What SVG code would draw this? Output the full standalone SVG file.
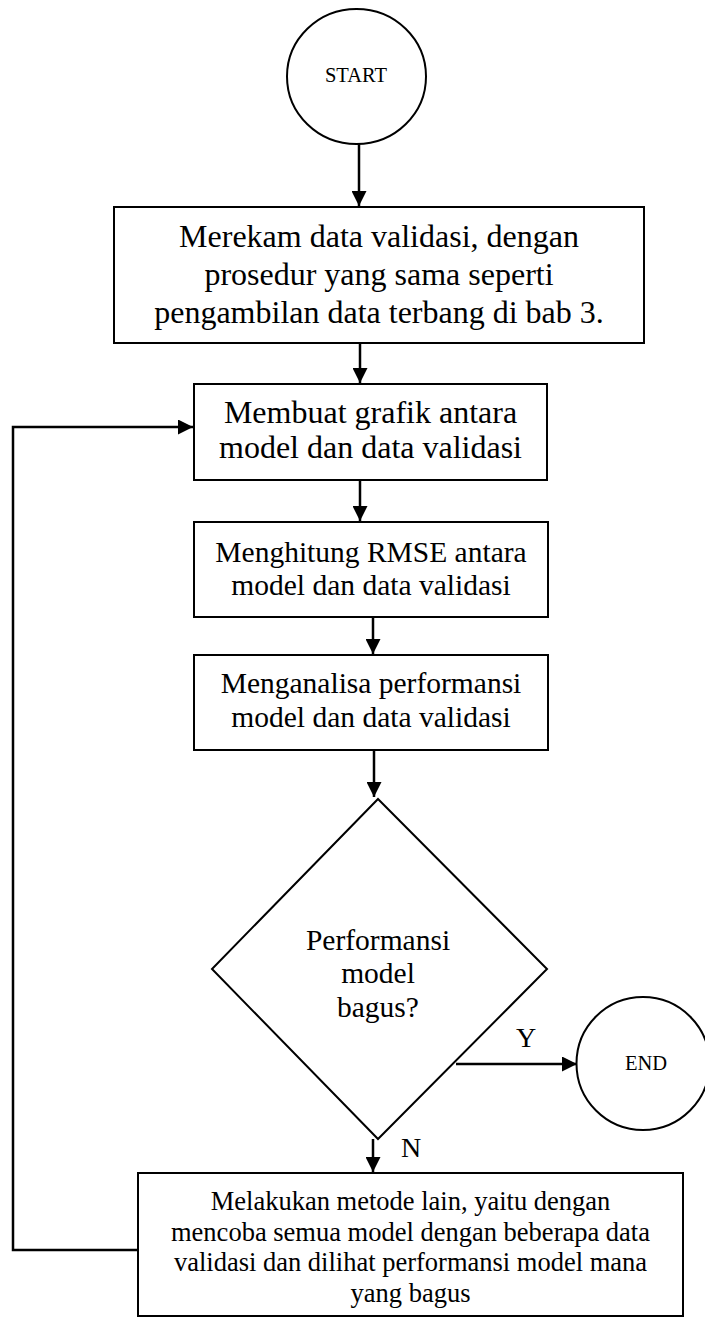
<svg xmlns="http://www.w3.org/2000/svg" width="705" height="1320" viewBox="0 0 705 1320">
<style>
.shape{fill:#fff;stroke:#000;stroke-width:2}
.conn{fill:none;stroke:#000;stroke-width:2.5}
text{font-family:"Liberation Serif","Times New Roman",serif;fill:#000;text-anchor:middle}
.t32{font-size:32px}
.t30{font-size:29.5px}
.t26{font-size:26.5px}
.t20{font-size:20.5px}
.lab{font-size:28px}
</style>
<defs>
<marker id="arrow" markerUnits="userSpaceOnUse" markerWidth="15" markerHeight="15" refX="15" refY="7.5" orient="auto">
<path d="M0,0 L15,7.5 L0,15 z" fill="#000"/>
</marker>
</defs>
<rect width="705" height="1320" fill="#fff"/>
<g id="connectors">
<line class="conn" x1="359" y1="144" x2="359" y2="206" marker-end="url(#arrow)"/>
<line class="conn" x1="360" y1="343" x2="360" y2="383" marker-end="url(#arrow)"/>
<line class="conn" x1="360" y1="480" x2="360" y2="521" marker-end="url(#arrow)"/>
<line class="conn" x1="373" y1="617" x2="373" y2="654" marker-end="url(#arrow)"/>
<line class="conn" x1="374" y1="750" x2="374" y2="797" marker-end="url(#arrow)"/>
<line class="conn" x1="456" y1="1064" x2="577" y2="1064" marker-end="url(#arrow)"/>
<line class="conn" x1="373" y1="1139" x2="373" y2="1172" marker-end="url(#arrow)"/>
<polyline class="conn" points="138,1250 13,1250 13,427 193,427" marker-end="url(#arrow)"/>
<text class="lab" x="526" y="1047">Y</text>
<text class="lab" x="411" y="1157">N</text>
</g>
<g id="start">
<ellipse class="shape" cx="356.5" cy="76.5" rx="69.5" ry="67.5"/>
<text class="t20" x="356" y="82">START</text>
</g>
<g id="box1">
<rect class="shape" x="114" y="207" width="530" height="136"/>
<text class="t32" x="379" y="247">Merekam data validasi, dengan</text>
<text class="t32" x="379" y="285">prosedur yang sama seperti</text>
<text class="t32" x="379" y="323">pengambilan data terbang di bab 3.</text>
</g>
<g id="box2">
<rect class="shape" x="194" y="384" width="353" height="96"/>
<text class="t32" x="370.5" y="423">Membuat grafik antara</text>
<text class="t32" x="370.5" y="458">model dan data validasi</text>
</g>
<g id="box3">
<rect class="shape" x="194" y="522" width="354" height="95"/>
<text class="t30" x="371" y="562">Menghitung RMSE antara</text>
<text class="t30" x="371" y="595">model dan data validasi</text>
</g>
<g id="box4">
<rect class="shape" x="194" y="655" width="354" height="95"/>
<text class="t30" x="371" y="693">Menganalisa performansi</text>
<text class="t30" x="371" y="727">model dan data validasi</text>
</g>
<g id="decision">
<polygon class="shape" points="378,799 547,969 378,1139 212,969"/>
<text class="t30" x="378" y="950">Performansi</text>
<text class="t30" x="378" y="983">model</text>
<text class="t30" x="378" y="1017">bagus?</text>
</g>
<g id="end">
<circle class="shape" cx="643" cy="1063.5" r="66.5"/>
<text class="t20" x="646" y="1070">END</text>
</g>
<g id="box5">
<rect class="shape" x="138" y="1173" width="545" height="143"/>
<text class="t26" x="410.5" y="1210">Melakukan metode lain, yaitu dengan</text>
<text class="t26" x="410.5" y="1240.5">mencoba semua model dengan beberapa data</text>
<text class="t26" x="410.5" y="1271">validasi dan dilihat performansi model mana</text>
<text class="t26" x="410.5" y="1301.5">yang bagus</text>
</g>
</svg>
